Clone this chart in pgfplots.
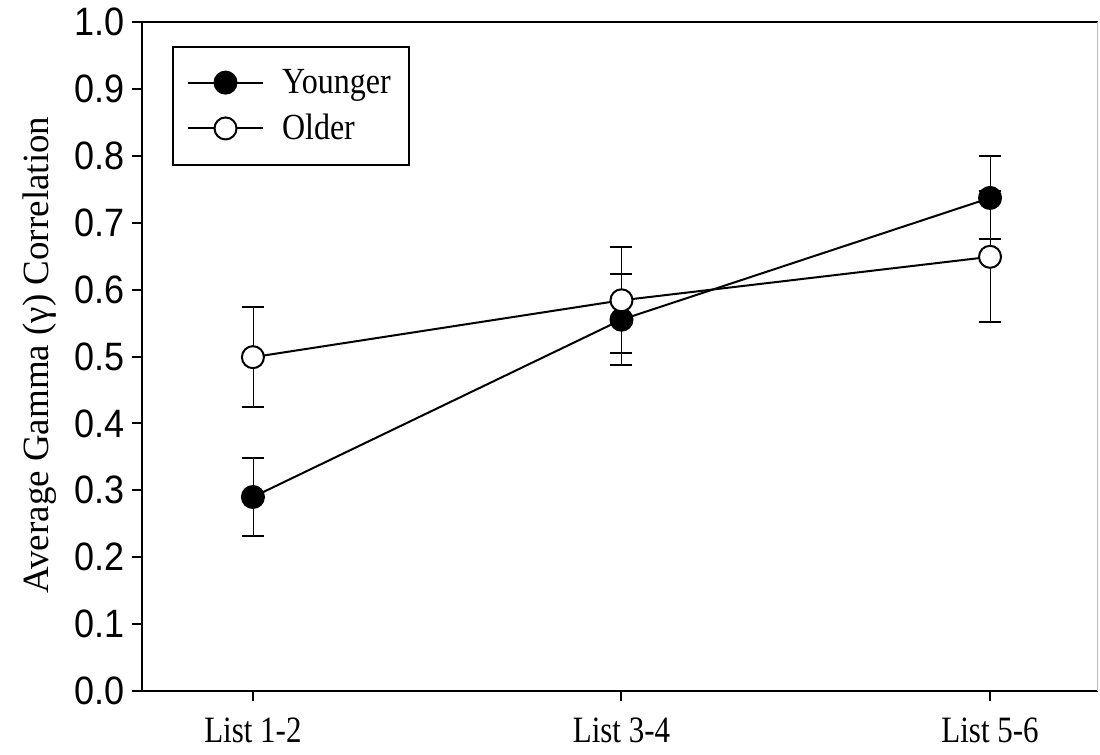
\documentclass[border=0pt]{standalone}
\usepackage{fontspec}
\setmainfont{Liberation Serif}
\newfontfamily\arialfont{Liberation Sans}
\usepackage{graphicx}
\usepackage{pgfplots}
\pgfplotsset{compat=1.18}
\usepackage{pgfplotstable}

\pgfplotstableread{
x y e
0 0.290 0.058
1 0.555 0.068
2 0.737 0.062
}\younger
\pgfplotstableread{
x y e
0 0.499 0.075
1 0.584 0.079
2 0.649 0.098
}\older

\begin{document}
\begin{tikzpicture}
\begin{axis}[
  name=ax,
  scale only axis,
  width=478pt, height=334.5pt,
  xmin=-0.301, xmax=2.293,
  ymin=0, ymax=1,
  xtick={0,1,2},
  xticklabels={\scalebox{1}[1.2]{List 1-2}, \scalebox{1}[1.2]{List 3-4}, \scalebox{1}[1.2]{List 5-6}},
  ytick={0,0.1,...,1.0},
  yticklabel={\scalebox{1}[1.1]{\pgfmathprintnumber[fixed, fixed zerofill, precision=1]{\tick}}},
  yticklabel style={font=\arialfont\fontsize{18}{20}\selectfont},
  /pgf/number format/assume math mode=true,
  xticklabel style={font=\fontsize{15.5}{18}\selectfont, yshift=-5pt},
  tick align=outside,
  xtick pos=lower, ytick pos=left,
  major tick length=5pt,
  tick style={black, line width=1pt},
  axis x line*=bottom, axis y line*=left,
  axis line style={black, line width=1.2pt, -},
  every axis y label/.style={at={(axis description cs:-0.107,0.502)}, rotate=90, anchor=center},
  ylabel={\fontsize{18.5}{20}\selectfont Average Gamma (γ) Correlation},
  legend style={at={(axis description cs:0.0314,0.964)}, anchor=north west, draw=black, line width=1pt, font=\fontsize{16}{18}\selectfont, inner xsep=7pt, inner ysep=9pt, row sep=5pt},
  legend cell align=left,
  legend image code/.code={\draw[mark repeat=2,mark phase=2] plot coordinates {(0pt,0pt)(18.75pt,0pt)(37.5pt,0pt)};\path[draw=none,fill=none] (45pt,0pt);},
]
\draw[black, line width=1.2pt] (rel axis cs:0,1) -- (rel axis cs:1,1);
\draw[black!25, line width=0.8pt] (rel axis cs:1,0) -- (rel axis cs:1,1);
\addplot+[black, line width=1pt, mark=*, mark size=5.5pt, mark options={fill=black, line width=1pt},
  error bars/.cd, y dir=both, y explicit, error mark options={rotate=90, mark size=5.5pt, line width=1pt, black}]
  table[x=x, y=y, y error=e] {\younger};
\addlegendentry{\scalebox{1}[1.15]{Younger}}
\addplot+[black, line width=1pt, mark=*, mark size=5.5pt, mark options={fill=white, line width=1pt},
  error bars/.cd, y dir=both, y explicit, error mark options={rotate=90, mark size=5.5pt, line width=1pt, black}]
  table[x=x, y=y, y error=e] {\older};
\addlegendentry{\scalebox{1}[1.15]{Older}}
\end{axis}
\pgfresetboundingbox
\path ([shift={(-71pt,-31.5pt)}]ax.south west) rectangle ([shift={(1pt,11pt)}]ax.north east);
\end{tikzpicture}
\end{document}
